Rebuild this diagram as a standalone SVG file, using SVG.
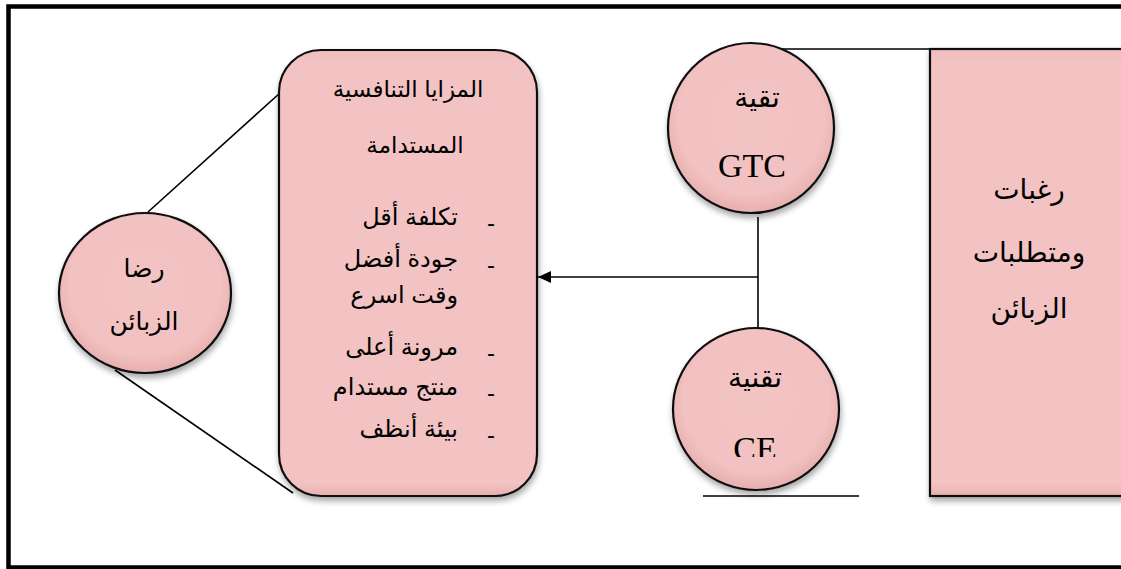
<svg xmlns="http://www.w3.org/2000/svg" width="1121" height="569" viewBox="0 0 1121 569">
<style>
.ar{font-family:"Liberation Sans","DejaVu Sans",sans-serif;font-size:23px;fill:#000;text-anchor:middle}
.big{font-size:28px}
.mid{font-size:25px}
.lt{font-family:"Liberation Serif","DejaVu Serif",serif;font-size:34px;fill:#000;text-anchor:middle}
.li{font-family:"Liberation Sans","DejaVu Sans",sans-serif;font-size:24px;fill:#000;text-anchor:end}
.shape{stroke:#111;stroke-width:2.2}
.conn{stroke:#000;stroke-width:1.6;fill:none}
</style>
<defs>
<radialGradient id="gc" cx="50%" cy="45%" r="55%">
<stop offset="0" stop-color="#f3c4c4"/>
<stop offset="0.8" stop-color="#f2c1c1"/>
<stop offset="1" stop-color="#e7aeae"/>
</radialGradient>
<linearGradient id="gr" x1="0" y1="0" x2="0" y2="1">
<stop offset="0" stop-color="#f0bcbc"/>
<stop offset="0.03" stop-color="#f3c3c3"/>
<stop offset="0.97" stop-color="#f3c3c3"/>
<stop offset="1" stop-color="#e8b0b0"/>
</linearGradient>
<filter id="sh" x="-10%" y="-10%" width="125%" height="125%">
<feGaussianBlur in="SourceAlpha" stdDeviation="3"/>
<feOffset dx="1" dy="4" result="b"/>
<feComponentTransfer><feFuncA type="linear" slope="0.35"/></feComponentTransfer>
<feMerge><feMergeNode/><feMergeNode in="SourceGraphic"/></feMerge>
</filter>
<marker id="arr" markerWidth="14" markerHeight="12" refX="13" refY="6" orient="auto" markerUnits="userSpaceOnUse">
<path d="M0,0 L13,6 L0,12 Z" fill="#000"/>
</marker>
<clipPath id="ceclip"><rect x="673" y="328" width="170" height="129"/></clipPath>
</defs>
<rect x="8.5" y="6.5" width="1200" height="561" fill="#fff" stroke="#000" stroke-width="4.5"/>
<g id="connectors">
<line class="conn" x1="280" y1="93" x2="148" y2="212"/>
<line class="conn" x1="293" y1="493" x2="115" y2="370"/>
<line class="conn" x1="773" y1="49" x2="930" y2="49"/>
<line class="conn" x1="758" y1="217" x2="758" y2="337"/>
<line class="conn" x1="758" y1="277" x2="538" y2="277" marker-end="url(#arr)"/>
<line class="conn" x1="703" y1="496" x2="859" y2="496"/>
</g>
<g id="node-customer-satisfaction">
<ellipse class="shape" cx="145" cy="293" rx="86" ry="80" fill="url(#gc)" filter="url(#sh)"/>
<text class="ar mid" x="144" y="277">رضا</text>
<text class="ar mid" x="144" y="330">الزبائن</text>
</g>
<g id="node-advantages">
<rect class="shape" x="279" y="50" width="258" height="446" rx="42" ry="42" fill="url(#gr)" filter="url(#sh)"/>
<text class="ar" x="408" y="97">المزايا التنافسية</text>
<text class="ar" x="415" y="153">المستدامة</text>
<text class="li" x="458" y="225">تكلفة أقل</text>
<text class="li" x="458" y="267">جودة أفضل</text>
<text class="li" x="458" y="303">وقت اسرع</text>
<text class="li" x="458" y="355">مرونة أعلى</text>
<text class="li" x="458" y="395">منتج مستدام</text>
<text class="li" x="458" y="437">بيئة أنظف</text>
<text class="li" x="495" y="231">-</text>
<text class="li" x="495" y="273">-</text>
<text class="li" x="495" y="361">-</text>
<text class="li" x="495" y="401">-</text>
<text class="li" x="495" y="443">-</text>
</g>
<g id="node-gtc">
<ellipse class="shape" cx="751" cy="128" rx="83" ry="85" fill="url(#gc)" filter="url(#sh)"/>
<text class="ar big" x="757" y="107">تقية</text>
<text class="lt" x="752" y="177">GTC</text>
</g>
<g id="node-ce">
<ellipse class="shape" cx="756" cy="409" rx="83" ry="81" fill="url(#gc)" filter="url(#sh)"/>
<text class="ar big" x="755" y="387">تقنية</text>
<text class="lt" x="755" y="460" clip-path="url(#ceclip)">CE</text>
</g>
<g id="node-customer-needs">
<rect class="shape" x="930" y="49" width="220" height="447" fill="url(#gr)" filter="url(#sh)"/>
<text class="ar big" x="1029" y="199">رغبات</text>
<text class="ar big" x="1029" y="262">ومتطلبات</text>
<text class="ar big" x="1029" y="318">الزبائن</text>
</g>
</svg>
